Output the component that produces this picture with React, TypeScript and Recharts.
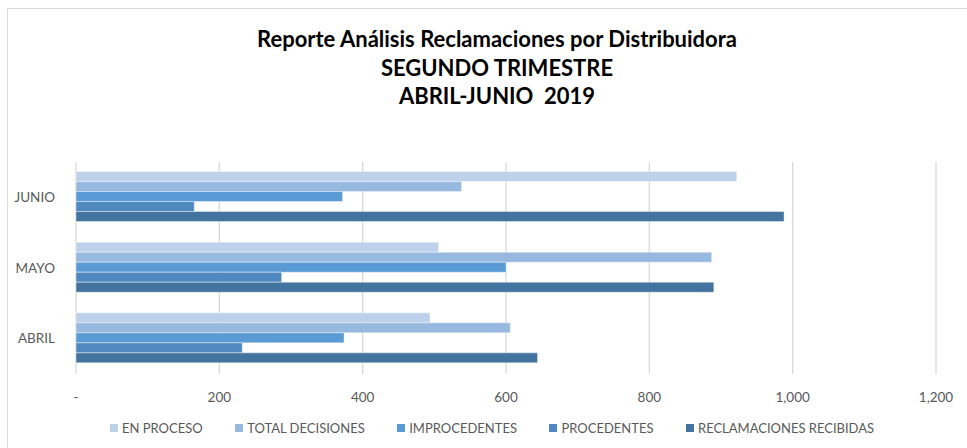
import React from "react";
import { BarChart, Bar, XAxis, YAxis, CartesianGrid } from "recharts";

// months, top to bottom as drawn
const months = ["JUNIO", "MAYO", "ABRIL"];

const enProceso = [922, 506, 494];
const totalDecisiones = [538, 887, 606];
const improcedentes = [372, 600, 374];
const procedentes = [165, 287, 232];
const reclamacionesRecibidas = [988, 890, 644];

const xTicks = [0, 200, 400, 600, 800, 1000, 1200];

const titleLines = [
  "Reporte Análisis Reclamaciones por Distribuidora",
  "SEGUNDO TRIMESTRE",
  "ABRIL-JUNIO  2019",
];

const series = [
  { key: "enProceso", name: "EN PROCESO", color: "#BDD1EB" },
  { key: "totalDecisiones", name: "TOTAL DECISIONES", color: "#97B9E0" },
  { key: "improcedentes", name: "IMPROCEDENTES", color: "#5B9BD5" },
  { key: "procedentes", name: "PROCEDENTES", color: "#4F89BF" },
  { key: "reclamaciones", name: "RECLAMACIONES RECIBIDAS", color: "#43749F" },
];

const data = months.map((m, i) => ({
  month: m,
  enProceso: enProceso[i],
  totalDecisiones: totalDecisiones[i],
  improcedentes: improcedentes[i],
  procedentes: procedentes[i],
  reclamaciones: reclamacionesRecibidas[i],
}));

const font = "Lato, 'Open Sans', sans-serif";

const formatTick = (v: number) => (v === 0 ? "-" : v.toLocaleString("en-US"));

const App = () => {
  return (
    <div
      style={{
        position: "absolute",
        left: 0,
        top: 0,
        width: 967,
        height: 448,
        overflow: "hidden",
        background: "#fff",
        fontFamily: font,
      }}
    >
      <div
        style={{
          position: "absolute",
          left: 7,
          top: 8,
          width: 1000,
          height: 500,
          border: "1px solid #D9D9D9",
        }}
      />
      <div
        style={{
          position: "absolute",
          left: 0,
          width: 994,
          top: 25,
          textAlign: "center",
          fontWeight: 700,
          fontSize: 22,
          lineHeight: "28.5px",
          color: "#000",
        }}
      >
        {titleLines.map((t) => (
          <div key={t} style={{ whiteSpace: "pre" }}>
            {t}
          </div>
        ))}
      </div>
      <div style={{ position: "absolute", left: 0, top: 0 }}>
        <BarChart
          width={967}
          height={448}
          data={data}
          layout="vertical"
          barCategoryGap="13.5%"
          barGap={0}
          margin={{ top: 162, right: 31, bottom: 44, left: 0 }}
        >
          <CartesianGrid horizontal={false} stroke="#D9D9D9" strokeWidth={1.3} />
          <XAxis
            type="number"
            domain={[0, 1200]}
            ticks={xTicks}
            tickFormatter={formatTick}
            axisLine={false}
            tickLine={false}
            tick={{ fill: "#595959", fontSize: 13.5, fontFamily: font }}
            tickMargin={12}
            height={30}
          />
          <YAxis
            type="category"
            dataKey="month"
            width={76}
            axisLine={false}
            tickLine={false}
            tick={{ fill: "#595959", fontSize: 13.5, fontFamily: font }}
            tickMargin={15}
          />
          {series.map((s) => (
            <Bar
              key={s.key}
              dataKey={s.key}
              name={s.name}
              fill={s.color}
              stroke="#ffffff"
              strokeOpacity={0.5}
              strokeWidth={0.8}
              isAnimationActive={false}
            />
          ))}
        </BarChart>
      </div>
      <div
        style={{
          position: "absolute",
          left: 110,
          top: 420,
          display: "flex",
          alignItems: "center",
          fontSize: 13,
          color: "#595959",
          whiteSpace: "nowrap",
        }}
      >
        {series.map((s) => (
          <div
            key={s.key}
            style={{ display: "flex", alignItems: "center", marginRight: 32.5 }}
          >
            <span
              style={{
                display: "inline-block",
                width: 8,
                height: 8,
                background: s.color,
                marginRight: 4,
              }}
            />
            <span>{s.name}</span>
          </div>
        ))}
      </div>
    </div>
  );
};

export default App;
